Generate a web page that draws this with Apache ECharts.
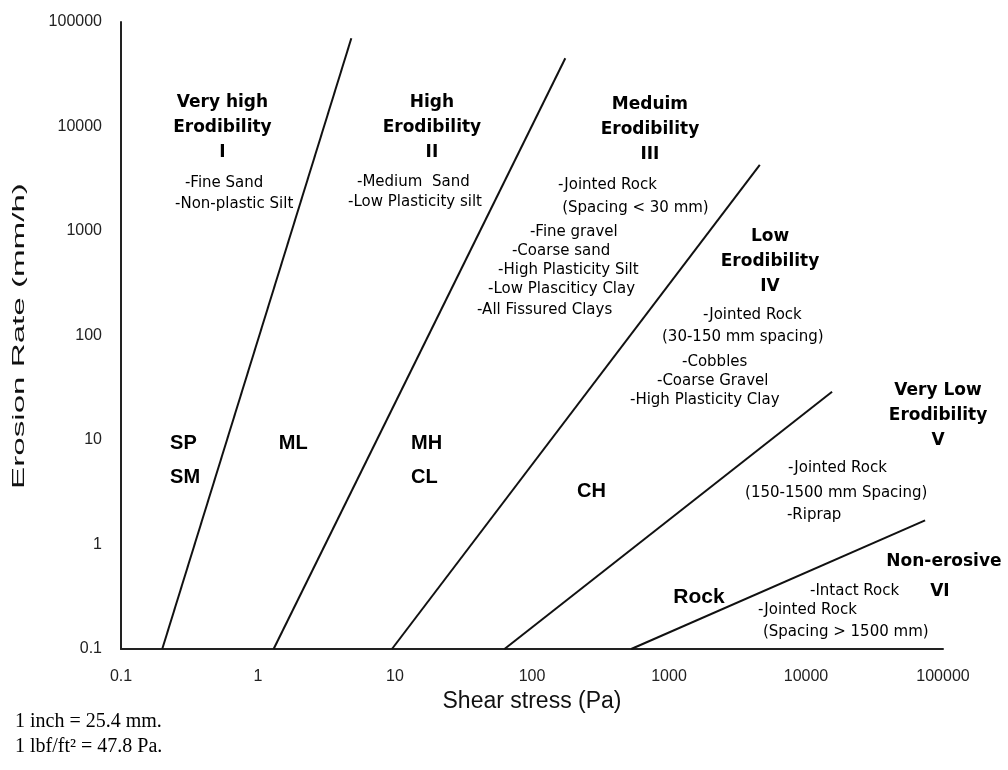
<!DOCTYPE html>
<html>
<head>
<meta charset="utf-8">
<script src="https://cdn.jsdelivr.net/npm/echarts@6/dist/echarts.min.js"></script>
<style>
  html, body { margin: 0; padding: 0; background: #ffffff; }
  #chart { width: 1008px; height: 770px; }
</style>
</head>
<body>
<div id="chart"></div>
<script>
// ---- data (log-log: shear stress Pa vs erosion rate mm/h) ----
const xTickLabels = ["0.1", "1", "10", "100", "1000", "10000", "100000"];
const yTickLabels = ["0.1", "1", "10", "100", "1000", "10000", "100000"];

// category boundary lines: [shear stress, erosion rate]
const boundaryI_II   = [[0.2, 0.1], [4.8, 70000]];
const boundaryII_III = [[1.3, 0.1], [175, 45000]];
const boundaryIII_IV = [[9.5, 0.1], [4600, 4300]];
const boundaryIV_V   = [[63, 0.1], [15500, 29]];
const boundaryV_VI   = [[530, 0.1], [74000, 1.7]];

// zone headings: [text, shear stress, erosion rate]
const headings = [
  ["Very high\nErodibility\nI", 0.55, 9700],
  ["High\nErodibility\nII", 18.6, 9700],
  ["Meduim\nErodibility\nIII", 726, 9270],
  ["Low\nErodibility\nIV", 5460, 505],
  ["Very Low\nErodibility\nV", 92000, 17],
  ["Non-erosive", 101600, 0.68],
  ["VI", 95000, 0.351]
];

// material notes: [text, shear stress, erosion rate] (left anchored)
const notes = [
  ["-Fine Sand", 0.293, 2880],
  ["-Non-plastic Silt", 0.248, 1810],
  ["-Medium  Sand", 5.28, 2950],
  ["-Low Plasticity silt", 4.54, 1900],
  ["-Jointed Rock", 155, 2750],
  ["(Spacing < 30 mm)", 166, 1660],
  ["-Fine gravel", 96.6, 977],
  ["-Coarse sand", 71.4, 644],
  ["-High Plasticity Silt", 56.5, 424],
  ["-Low Plasciticy Clay", 47.8, 279],
  ["-All Fissured Clays", 39.7, 175],
  ["-Jointed Rock", 1770, 157],
  ["(30-150 mm spacing)", 889, 96.8],
  ["-Cobbles", 1245, 55.7],
  ["-Coarse Gravel", 817, 36.7],
  ["-High Plasticity Clay", 519, 24.2],
  ["-Jointed Rock", 7400, 5.4],
  ["(150-1500 mm Spacing)", 3590, 3.11],
  ["-Riprap", 7260, 1.91],
  ["-Intact Rock", 10700, 0.359],
  ["-Jointed Rock", 4470, 0.236],
  ["(Spacing > 1500 mm)", 4850, 0.146]
];

// soil classes: [text, shear stress, erosion rate] (left anchored)
const soilClasses = [
  ["SP\nSM", 0.228, 6.3],
  ["ML", 1.42, 9.16],
  ["MH\nCL", 13.1, 6.3],
  ["CH", 213, 3.25]
];
const rockLabel = [["Rock", 1655, 0.315]];

// ---- chart ----
const chart = echarts.init(document.getElementById('chart'), null, { renderer: 'canvas' });

function toPoints(list) {
  return list.map(function (d) { return { name: d[0], value: [d[1], d[2]] }; });
}
function fmt(v) { return String(+(+v).toPrecision(6)); }

const lineStyle = { color: '#111111', width: 2 };
function boundary(data) {
  return {
    type: 'line', data: data, symbol: 'none', silent: true,
    lineStyle: lineStyle, animation: false, z: 3
  };
}
function textLayer(data, label) {
  return {
    type: 'scatter', data: toPoints(data), symbolSize: 0, clip: false, silent: true,
    itemStyle: { color: '#000000', opacity: 1 },
    emphasis: { disabled: true },
    label: Object.assign({ show: true, formatter: '{b}', color: '#000000', opacity: 1 }, label),
    z: 5
  };
}

const option = {
  backgroundColor: '#ffffff',
  animation: false,
  grid: { left: 121, right: 65, top: 22, bottom: 121, containLabel: false },
  xAxis: {
    type: 'log', logBase: 10, min: 0.1, max: 100000,
    name: 'Shear stress (Pa)', nameLocation: 'middle', nameGap: 36,
    nameTextStyle: { fontFamily: 'Liberation Sans', fontSize: 23, color: '#111' },
    axisLine: { show: true, onZero: false, lineStyle: { color: '#222', width: 2 } },
    axisTick: { show: false }, splitLine: { show: false }, minorTick: { show: false },
    axisLabel: {
      margin: 20, fontFamily: 'Liberation Sans', fontSize: 16, color: '#222',
      formatter: function (v) { const s = fmt(v); return xTickLabels.indexOf(s) >= 0 ? s : ''; }
    }
  },
  yAxis: {
    type: 'log', logBase: 10, min: 0.1, max: 100000,
    axisLine: { show: true, onZero: false, lineStyle: { color: '#222', width: 2 } },
    axisTick: { show: false }, splitLine: { show: false }, minorTick: { show: false },
    axisLabel: {
      margin: 19, fontFamily: 'Liberation Sans', fontSize: 16, color: '#222',
      formatter: function (v) { const s = fmt(v); return yTickLabels.indexOf(s) >= 0 ? s : ''; }
    }
  },
  graphic: [
    {
      type: 'text', x: 19, y: 336, rotation: Math.PI / 2, scaleX: 1.95, silent: true,
      style: {
        text: 'Erosion Rate (mm/h)', font: '17px "Liberation Sans"', fill: '#111',
        align: 'center', verticalAlign: 'middle', textAlign: 'center', textVerticalAlign: 'middle'
      }
    },
    {
      type: 'text', left: 15, top: 712, silent: true,
      style: { text: '1 inch = 25.4 mm.', font: '20px "Liberation Serif"', fill: '#000' }
    },
    {
      type: 'text', left: 15, top: 737, silent: true,
      style: { text: '1 lbf/ft\u00B2 = 47.8 Pa.', font: '20px "Liberation Serif"', fill: '#000' }
    }
  ],
  series: [
    boundary(boundaryI_II),
    boundary(boundaryII_III),
    boundary(boundaryIII_IV),
    boundary(boundaryIV_V),
    boundary(boundaryV_VI),
    textLayer(headings, {
      position: 'inside', fontFamily: 'DejaVu Sans', fontWeight: 'bold',
      fontSize: 17, lineHeight: 25, align: 'center'
    }),
    textLayer(notes, {
      position: 'right', distance: 0, fontFamily: 'DejaVu Sans', fontSize: 15
    }),
    textLayer(soilClasses, {
      position: 'right', distance: 0, fontFamily: 'Liberation Sans', fontWeight: 'bold',
      fontSize: 20, lineHeight: 34
    }),
    textLayer(rockLabel, {
      position: 'inside', fontFamily: 'Liberation Sans', fontWeight: 'bold', fontSize: 21
    })
  ]
};
chart.setOption(option);
</script>
</body>
</html>
